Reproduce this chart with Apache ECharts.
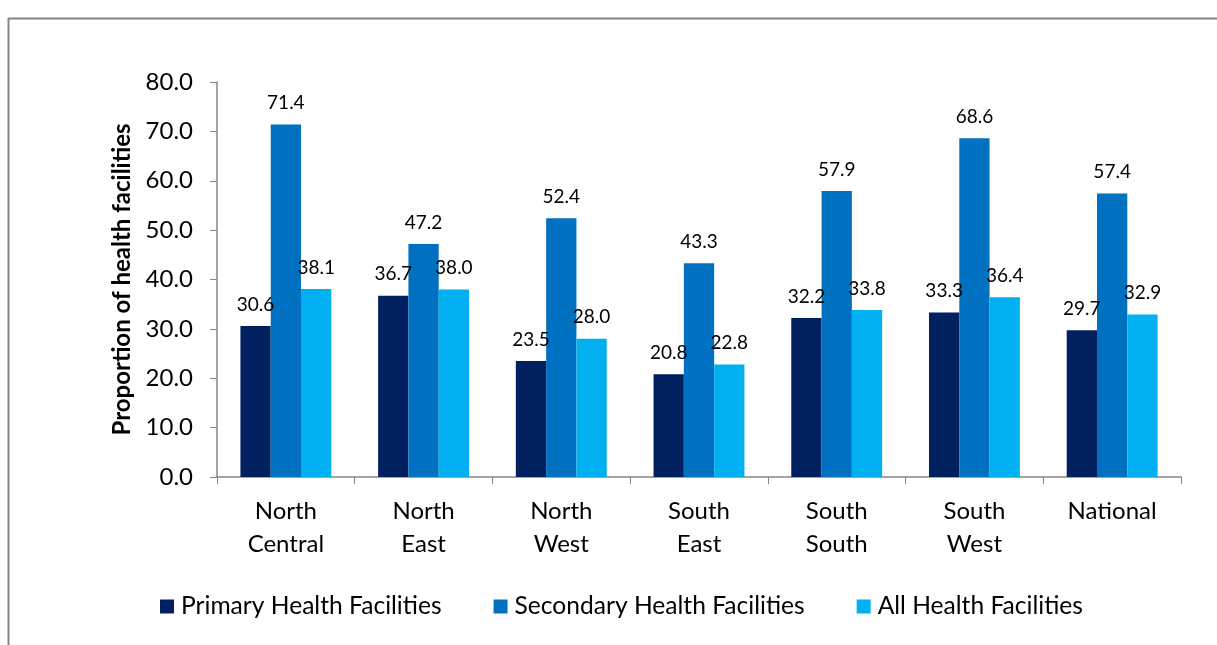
<!DOCTYPE html>
<html>
<head>
<meta charset="utf-8">
<script src="https://cdn.jsdelivr.net/npm/echarts@6/dist/echarts.min.js"></script>
<style>
  html, body { margin: 0; padding: 0; background: #fff; }
  #chart { width: 1217px; height: 645px; }
</style>
</head>
<body>
<div id="chart"></div>
<script>
var regions = ['North\nCentral', 'North\nEast', 'North\nWest', 'South\nEast', 'South\nSouth', 'South\nWest', 'National'];
var primary = [30.6, 36.7, 23.5, 20.8, 32.2, 33.3, 29.7];
var secondary = [71.4, 47.2, 52.4, 43.3, 57.9, 68.6, 57.4];
var allFacilities = [38.1, 38.0, 28.0, 22.8, 33.8, 36.4, 32.9];
var seriesNames = ['Primary Health Facilities', 'Secondary Health Facilities', 'All Health Facilities'];
var colors = ['#002060', '#0070C0', '#00B0F0'];

var font = 'Lato, "Open Sans", sans-serif';

function barSeries(name, data, color) {
	return {
		name: name,
		type: 'bar',
		data: data,
		barGap: '0%',
		barCategoryGap: '34%',
		itemStyle: { color: color },
		label: {
			show: true,
			position: 'top',
			distance: 12,
			color: '#000',
			fontFamily: font,
			fontSize: 19,
			formatter: function (p) { return p.value.toFixed(1); }
		}
	};
}

var chart = echarts.init(document.getElementById('chart'));
chart.setOption({
	animation: false,
	color: colors,
	grid: { left: 217, right: 36, top: 82, bottom: 168 },
	graphic: [
		{ type: 'line', shape: { x1: 8.5, y1: 18, x2: 8.5, y2: 645 }, style: { stroke: '#868686', lineWidth: 2 } },
		{ type: 'line', shape: { x1: 8, y1: 18.5, x2: 1217, y2: 18.5 }, style: { stroke: '#868686', lineWidth: 2 } }
	],
	legend: {
		bottom: 21,
		left: 155,
		itemWidth: 14,
		itemHeight: 14,
		itemGap: 52,
		icon: 'rect',
		textStyle: { fontFamily: font, fontSize: 24.6, color: '#000', padding: [0, 0, 0, 2] },
		data: seriesNames
	},
	xAxis: {
		type: 'category',
		data: regions,
		axisLine: { lineStyle: { color: '#868686', width: 1.5 } },
		axisTick: { show: true, length: 7, lineStyle: { color: '#868686' } },
		axisLabel: { color: '#000', fontFamily: font, fontSize: 24, lineHeight: 33, margin: 18 }
	},
	yAxis: {
		type: 'value',
		min: 0,
		max: 80,
		interval: 10,
		name: 'Proportion of health facilities',
		nameLocation: 'middle',
		nameGap: 82,
		nameTextStyle: { color: '#000', fontFamily: font, fontSize: 24, fontWeight: 'bold' },
		splitLine: { show: false },
		axisLine: { show: true, lineStyle: { color: '#868686', width: 1.5 } },
		axisTick: { show: true, length: 7, lineStyle: { color: '#868686' } },
		axisLabel: {
			color: '#000', fontFamily: font, fontSize: 24, margin: 24,
			formatter: function (v) { return v.toFixed(1); }
		}
	},
	series: [
		barSeries(seriesNames[0], primary, colors[0]),
		barSeries(seriesNames[1], secondary, colors[1]),
		barSeries(seriesNames[2], allFacilities, colors[2])
	]
});
</script>
</body>
</html>
